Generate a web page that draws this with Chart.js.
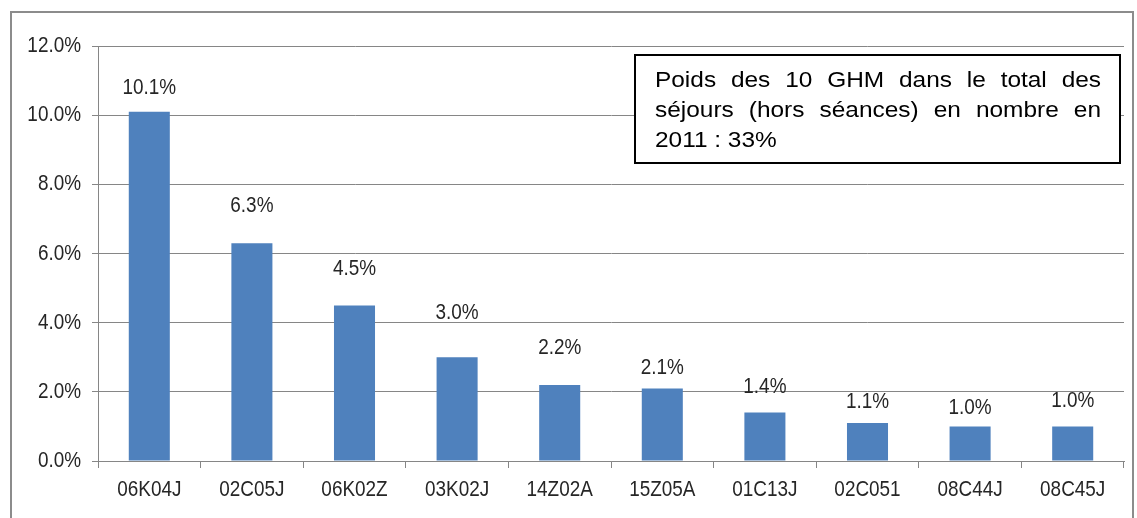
<!DOCTYPE html>
<html>
<head>
<meta charset="utf-8">
<script src="https://cdn.jsdelivr.net/npm/chart.js@4"></script>
<style>
  html, body { margin: 0; padding: 0; background: #fff; }
  #wrap { width: 1137px; height: 518px; position: relative; }
</style>
</head>
<body>
<div id="wrap"><canvas id="cv"></canvas></div>
<script>
const categories = ['06K04J', '02C05J', '06K02Z', '03K02J', '14Z02A', '15Z05A', '01C13J', '02C051', '08C44J', '08C45J'];
const shares = [10.1, 6.3, 4.5, 3.0, 2.2, 2.1, 1.4, 1.1, 1.0, 1.0];
const yTicks = [0, 2, 4, 6, 8, 10, 12];
const noteLines = [
  'Poids des 10 GHM dans le total des',
  'séjours (hors séances) en nombre en',
  '2011 : 33%'
];

const sans = '"Liberation Sans", Arial, sans-serif';
const lineGray = '#868686';
const textGray = '#262626';

// draws text squeezed (or stretched) horizontally by factor f
function squeezed(ctx, text, x, y, f, align) {
  ctx.save();
  ctx.translate(x, y);
  ctx.scale(f, 1);
  ctx.textAlign = align;
  ctx.fillText(text, 0, 0);
  ctx.restore();
}

// frame, axis labels, value labels and the note box
const decor = {
  id: 'decor',
  beforeDraw(chart) {
    const ctx = chart.ctx;
    ctx.save();
    ctx.strokeStyle = '#8c8c8c';
    ctx.lineWidth = 2;
    ctx.beginPath();
    ctx.moveTo(11, 530);
    ctx.lineTo(11, 12);
    ctx.lineTo(1133, 12);
    ctx.lineTo(1133, 530);
    ctx.stroke();
    ctx.restore();
  },
  afterDatasetsDraw(chart, args, opts) {
    const ctx = chart.ctx;
    const meta = chart.getDatasetMeta(0);
    const yScale = chart.scales.y;
    const f = opts.squeeze;
    ctx.save();
    ctx.font = '22px ' + sans;
    ctx.fillStyle = textGray;
    ctx.textBaseline = 'middle';

    yTicks.forEach(v => {
      squeezed(ctx, v.toFixed(1) + '%', 81, yScale.getPixelForValue(v), f, 'right');
    });
    meta.data.forEach((bar, i) => {
      squeezed(ctx, categories[i], bar.x, 490, f, 'center');
      squeezed(ctx, shares[i].toFixed(1) + '%', bar.x, bar.y - opts.lift[i], f, 'center');
    });

    // note box
    const bx = 635, by = 55, bw = 485, bh = 108;
    ctx.fillStyle = '#fff';
    ctx.fillRect(bx, by, bw, bh);
    ctx.strokeStyle = '#000';
    ctx.lineWidth = 2;
    ctx.strokeRect(bx, by, bw, bh);

    ctx.fillStyle = '#000';
    ctx.textBaseline = 'alphabetic';
    const wide = 1.11;
    const left = 655, right = 1101;
    noteLines.forEach((line, k) => {
      const y = 87 + k * 30;
      const words = line.split(' ');
      if (k === noteLines.length - 1) {
        squeezed(ctx, line, left, y, wide, 'left');
        return;
      }
      const widths = words.map(w => ctx.measureText(w).width * wide);
      const total = widths.reduce((s, w) => s + w, 0);
      const gap = (right - left - total) / (words.length - 1);
      let x = left;
      words.forEach((w, j) => {
        squeezed(ctx, w, x, y, wide, 'left');
        x += widths[j] + gap;
      });
    });
    ctx.restore();
  }
};

new Chart(document.getElementById('cv'), {
  type: 'bar',
  data: {
    labels: categories,
    datasets: [{
      data: shares,
      backgroundColor: '#4f81bd',
      borderWidth: 0,
      categoryPercentage: 1,
      barPercentage: 0.4
    }]
  },
  options: {
    responsive: true,
    maintainAspectRatio: false,
    animation: false,
    layout: { padding: { left: 0, right: 13, top: 46, bottom: 0 } },
    plugins: {
      legend: { display: false },
      tooltip: { enabled: false },
      decor: { squeeze: 0.86, lift: [24, 37, 36, 44, 37, 20, 26, 21, 18, 25] }
    },
    scales: {
      x: {
        afterFit: s => { s.height = 57; },
        border: { display: true, color: lineGray, width: 1 },
        grid: { offset: true, drawOnChartArea: false, drawTicks: true, tickLength: 7, color: lineGray },
        ticks: { display: false }
      },
      y: {
        min: 0,
        max: 12,
        afterFit: s => { s.width = 98; },
        afterBuildTicks: s => { s.ticks = yTicks.map(v => ({ value: v })); },
        border: { display: true, color: lineGray, width: 1 },
        grid: { color: lineGray, lineWidth: 1, drawTicks: true, tickLength: 6 },
        ticks: { display: false }
      }
    }
  },
  plugins: [decor]
});
</script>
</body>
</html>
